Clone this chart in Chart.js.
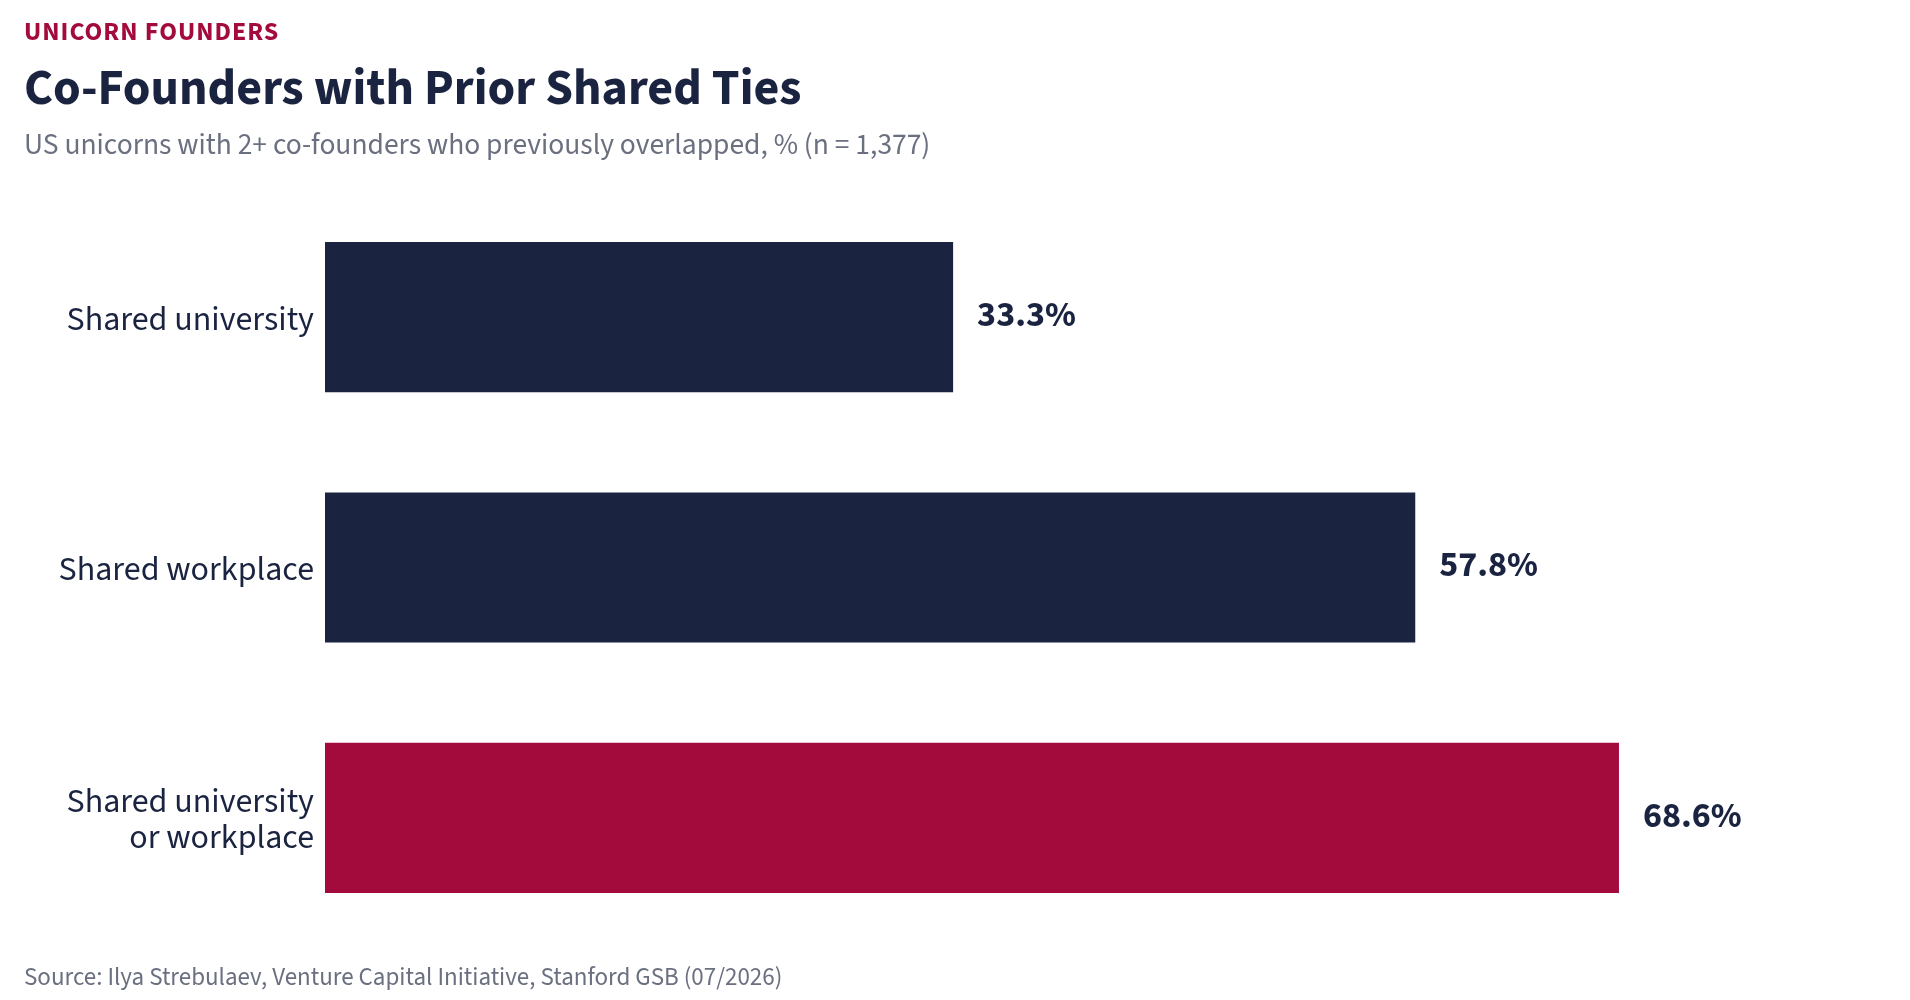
<!DOCTYPE html>
<html>
<head>
<meta charset="utf-8">
<script src="https://cdn.jsdelivr.net/npm/chart.js@4.4.1/dist/chart.umd.min.js"></script>
<style>
  html, body { margin: 0; padding: 0; background: #ffffff; }
  body { width: 1910px; height: 1000px; position: relative; overflow: hidden; font-family: "Source Sans 3", "Source Sans Pro", Lato, sans-serif; }
  #wrap { position: absolute; left: 0; top: 0; width: 1910px; height: 1000px; }
  .txt { position: absolute; left: 24px; white-space: nowrap; margin: 0; }
  #kicker { top: 13px; font-size: 26px; font-weight: 700; letter-spacing: 1px; color: #a30b3d; }
  #title { top: 53px; font-size: 50px; font-weight: 700; color: #1a2340; }
  #subtitle { top: 124px; font-size: 29.5px; color: #6b7080; }
  #source { top: 959px; font-size: 25px; color: #6b7080; }
</style>
</head>
<body>
<div id="wrap"><canvas id="chart"></canvas></div>
<p class="txt" id="kicker">UNICORN FOUNDERS</p>
<p class="txt" id="title">Co-Founders with Prior Shared Ties</p>
<p class="txt" id="subtitle">US unicorns with 2+ co-founders who previously overlapped, % (n = 1,377)</p>
<p class="txt" id="source">Source: Ilya Strebulaev, Venture Capital Initiative, Stanford GSB (07/2026)</p>
<script>
// dados do gráfico
const categories = [
  'Shared university',
  'Shared workplace',
  ['Shared university', 'or workplace']
];
const shareValues = [33.3, 57.8, 68.6];
const barColors = ['#1a2340', '#1a2340', '#a30b3d'];

// rótulos de valor ao lado das barras
const valueLabels = {
  id: 'valueLabels',
  afterDatasetsDraw(chart) {
    const ctx = chart.ctx;
    const meta = chart.getDatasetMeta(0);
    ctx.save();
    ctx.font = '700 36px "Source Sans 3", "Source Sans Pro", Lato, sans-serif';
    ctx.fillStyle = '#1a2340';
    ctx.textAlign = 'left';
    ctx.textBaseline = 'middle';
    meta.data.forEach((bar, i) => {
      ctx.fillText(shareValues[i].toFixed(1) + '%', bar.x + 24, bar.y + 1);
    });
    ctx.restore();
  }
};

const ctx = document.getElementById('chart');
new Chart(ctx, {
  type: 'bar',
  data: {
    labels: categories,
    datasets: [{
      data: shareValues,
      backgroundColor: barColors,
      borderWidth: 0,
      barPercentage: 0.6,
      categoryPercentage: 1
    }]
  },
  options: {
    indexAxis: 'y',
    responsive: true,
    maintainAspectRatio: false,
    animation: false,
    layout: { padding: { left: 0, top: 192, right: 76, bottom: 57 } },
    plugins: { legend: { display: false }, tooltip: { enabled: false } },
    scales: {
      x: { display: false, min: 0, max: 80 },
      y: {
        afterFit: (s) => { s.width = 325; },
        grid: { display: false, drawTicks: false },
        border: { display: false },
        ticks: {
          padding: 11,
          labelOffset: 5,
          color: '#1a2340',
          font: { family: '"Source Sans 3", "Source Sans Pro", Lato, sans-serif', size: 34, lineHeight: 1.05 }
        }
      }
    }
  },
  plugins: [valueLabels]
});
</script>
</body>
</html>
